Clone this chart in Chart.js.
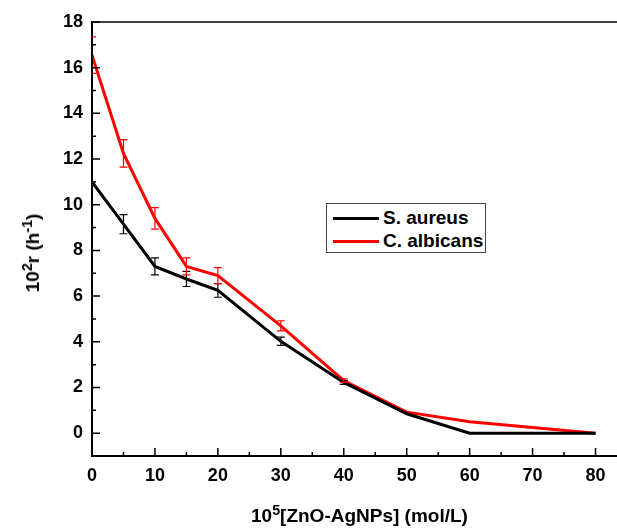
<!DOCTYPE html>
<html>
<head>
<meta charset="utf-8">
<script src="https://cdn.jsdelivr.net/npm/chart.js@4/dist/chart.umd.min.js"></script>
<style>
  body { margin: 0; overflow: hidden; background: #fff; }
  #wrap { position: relative; width: 617px; height: 530px; overflow: hidden; }
  #wrap canvas { position: absolute; left: 0; top: 0; }
  .lbl { position: absolute; font-family: 'Liberation Sans', Arial, sans-serif; font-weight: bold; color: #000; white-space: nowrap; }
  .lbl sup { font-size: 0.75em; position: relative; top: -0.5em; vertical-align: baseline; line-height: 0; }
  #ytitle { font-size: 19px; left: 33px; top: 253px; transform: translate(-50%, -50%) rotate(-90deg); }
  #xtitle { font-size: 19px; left: 251px; top: 505px; }
  #legend { position: absolute; left: 326px; top: 203px; width: 158px; height: 48px; border: 1px solid #444; background: #fff; }
  #legend .row { position: absolute; left: 0; height: 23px; }
  #legend .swatch { position: absolute; left: 6px; width: 46px; height: 3px; }
  #legend .txt { font-size: 19px; left: 56px; top: -11px; }
</style>
</head>
<body>
<div id="wrap">
  <canvas id="chart" width="627" height="530"></canvas>
  <div class="lbl" id="ytitle">10<sup>2</sup>r (h<sup>-1</sup>)</div>
  <div class="lbl" id="xtitle">10<sup>5</sup>[ZnO-AgNPs] (mol/L)</div>
  <div id="legend"></div>
</div>
<script>
// concentrations, 10^5 [ZnO-AgNPs] (mol/L)
const conc = [0, 5, 10, 15, 20, 30, 40, 50, 60, 80];

// 10^2 r (h^-1)
const sAureus = [11.0, 9.15, 7.3, 6.75, 6.25, 4.02, 2.22, 0.85, 0, 0];
const sAureusErr = [0, 0.42, 0.37, 0.33, 0.3, 0.18, 0.08, 0, 0, 0];
const cAlbicans = [16.55, 12.25, 9.4, 7.3, 6.9, 4.7, 2.3, 0.92, 0.5, 0];
const cAlbicansErr = [0.8, 0.6, 0.47, 0.37, 0.35, 0.22, 0.08, 0, 0, 0];

const seriesNames = ['S. aureus', 'C. albicans'];
const seriesColors = ['#000000', '#ff0000'];

const xTicks = [0, 10, 20, 30, 40, 50, 60, 70, 80];
const yTicks = [0, 2, 4, 6, 8, 10, 12, 14, 16, 18];

const FONT = "'Liberation Sans', Arial, sans-serif";

function toPoints(values) {
    return conc.map((c, i) => ({ x: c, y: values[i] }));
}

// vertical error bars with small caps, clipped to the plot
const errorBars = {
    id: 'errorBars',
    afterDatasetsDraw(chart) {
        const { ctx, chartArea: a } = chart;
        const yScale = chart.scales.y;
        chart.data.datasets.forEach((ds, di) => {
            const meta = chart.getDatasetMeta(di);
            ctx.save();
            ctx.beginPath();
            ctx.rect(a.left, a.top - 2, a.right - a.left, a.bottom - a.top + 2);
            ctx.clip();
            ctx.strokeStyle = ds.borderColor;
            ctx.lineWidth = 1.2;
            ds.errors.forEach((e, i) => {
                if (!e) return;
                const x = meta.data[i].x;
                const v = ds.data[i].y;
                const top = yScale.getPixelForValue(v + e);
                const bot = yScale.getPixelForValue(v - e);
                ctx.beginPath();
                ctx.moveTo(x, top); ctx.lineTo(x, bot);
                ctx.moveTo(x - 4, top); ctx.lineTo(x + 4, top);
                ctx.moveTo(x - 4, bot); ctx.lineTo(x + 4, bot);
                ctx.stroke();
            });
            ctx.restore();
        });
    }
};

// frame + inward ticks (Origin style)
const frame = {
    id: 'frame',
    afterDraw(chart) {
        const { ctx, chartArea: a, scales } = chart;
        ctx.save();
        ctx.strokeStyle = '#000';
        ctx.lineWidth = 1.5;
        ctx.beginPath();
        ctx.moveTo(a.left, a.top); ctx.lineTo(a.right, a.top);
        ctx.stroke();
        ctx.lineWidth = 2;
        ctx.beginPath();
        ctx.moveTo(a.left, a.top - 1); ctx.lineTo(a.left, a.bottom);
        ctx.lineTo(a.right, a.bottom);
        ctx.stroke();

        ctx.lineWidth = 1.5;
        ctx.beginPath();
        yTicks.forEach(t => {
            const y = scales.y.getPixelForValue(t);
            ctx.moveTo(a.left, y); ctx.lineTo(a.left + 8, y);
            if (t < 18) {
                const ym = scales.y.getPixelForValue(t + 1);
                ctx.moveTo(a.left, ym); ctx.lineTo(a.left + 4, ym);
            }
        });
        xTicks.forEach(t => {
            const x = scales.x.getPixelForValue(t);
            if (t > 0) { ctx.moveTo(x, a.bottom); ctx.lineTo(x, a.bottom - 8); }
            const xm = scales.x.getPixelForValue(t + 5);
            ctx.moveTo(xm, a.bottom); ctx.lineTo(xm, a.bottom - 4);
        });
        ctx.stroke();
        ctx.restore();
    }
};

new Chart(document.getElementById('chart').getContext('2d'), {
    type: 'line',
    data: {
        datasets: [
            {
                label: seriesNames[0],
                data: toPoints(sAureus),
                errors: sAureusErr,
                borderColor: seriesColors[0],
                borderWidth: 3,
                pointRadius: 0,
                tension: 0
            },
            {
                label: seriesNames[1],
                data: toPoints(cAlbicans),
                errors: cAlbicansErr,
                borderColor: seriesColors[1],
                borderWidth: 3,
                pointRadius: 0,
                tension: 0
            }
        ]
    },
    options: {
        responsive: false,
        animation: false,
        layout: { padding: { top: 22, left: 0, right: 0, bottom: 0 } },
        plugins: { legend: { display: false }, tooltip: { enabled: false } },
        scales: {
            x: {
                type: 'linear',
                min: 0,
                max: 85,
                grid: { display: false, drawTicks: false },
                border: { display: false },
                afterBuildTicks: s => { s.ticks = xTicks.map(v => ({ value: v })); },
                afterFit: s => { s.height = 74; },
                ticks: { padding: 9, color: '#000', font: { family: FONT, size: 18, weight: 'bold' } }
            },
            y: {
                min: -1,
                max: 18,
                grid: { display: false, drawTicks: false },
                border: { display: false },
                afterBuildTicks: s => { s.ticks = yTicks.map(v => ({ value: v })); },
                afterFit: s => { s.width = 92; },
                ticks: { padding: 9, color: '#000', font: { family: FONT, size: 18, weight: 'bold' } }
            }
        }
    },
    plugins: [errorBars, frame]
});

// legend box
const legend = document.getElementById('legend');
seriesNames.forEach((name, i) => {
    const row = document.createElement('div');
    row.className = 'row';
    row.style.top = (14 + i * 23) + 'px';
    const sw = document.createElement('div');
    sw.className = 'swatch';
    sw.style.background = seriesColors[i];
    sw.style.top = '-1px';
    const tx = document.createElement('div');
    tx.className = 'lbl txt';
    tx.textContent = name;
    row.appendChild(sw);
    row.appendChild(tx);
    legend.appendChild(row);
});
</script>
</body>
</html>
